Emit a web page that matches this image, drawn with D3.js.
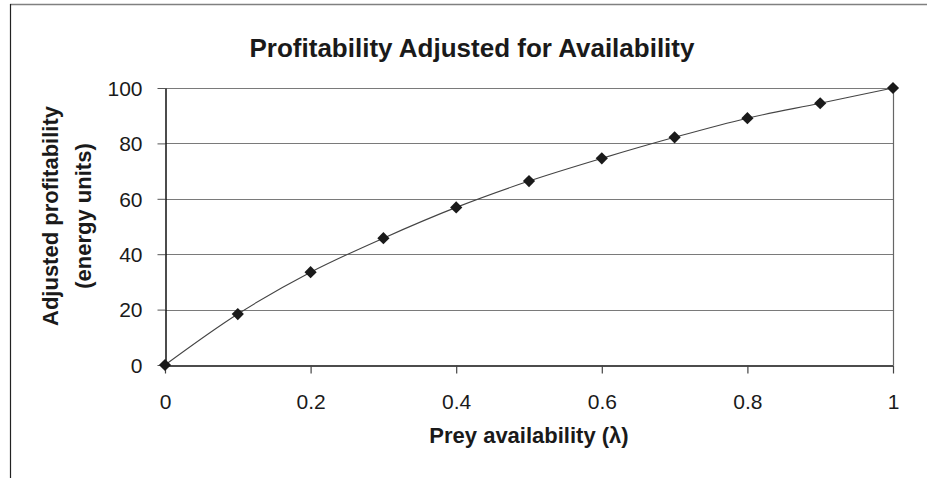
<!DOCTYPE html>
<html lang="en">
<head>
    <meta charset="UTF-8">
    <title>Profitability Adjusted for Availability</title>
    <script src="https://d3js.org/d3.v7.min.js"></script>
    <style>
        body { margin: 0; background: #fff; }
        text { font-family: "Liberation Sans", Arial, sans-serif; fill: #1a1a1a; }
    </style>
</head>
<body>
    <div id="chart"></div>

    <script>
        // Data
        var availability = [0, 0.1, 0.2, 0.3, 0.4, 0.5, 0.6, 0.7, 0.8, 0.9, 1];
        var profitability = [0, 18.4, 33.5, 45.8, 56.9, 66.4, 74.6, 82.2, 89.1, 94.5, 100];
        var xTicks = [0, 0.2, 0.4, 0.6, 0.8, 1];
        var yTicks = [0, 20, 40, 60, 80, 100];

        var width = 927, height = 478;
        var margin = { left: 165, right: 34, top: 88, bottom: 113 };

        var svg = d3.select("#chart").append("svg")
            .attr("width", width)
            .attr("height", height);

        // outer frame (top + left only)
        svg.append("line").attr("x1", 10).attr("x2", width).attr("y1", 4.5).attr("y2", 4.5)
            .attr("stroke", "#808080").attr("stroke-width", 1.5);
        svg.append("line").attr("x1", 10.5).attr("x2", 10.5).attr("y1", 4).attr("y2", height)
            .attr("stroke", "#222").attr("stroke-width", 1.2);

        var x = d3.scaleLinear().domain([0, 1]).range([margin.left, width - margin.right]);
        var y = d3.scaleLinear().domain([0, 100]).range([height - margin.bottom, margin.top]);

        // gridlines
        svg.append("g").selectAll("line")
            .data(yTicks.filter(function(d) { return d > 0; }))
            .join("line")
            .attr("x1", x(0)).attr("x2", x(1))
            .attr("y1", function(d) { return Math.round(y(d)) + 0.5; })
            .attr("y2", function(d) { return Math.round(y(d)) + 0.5; })
            .attr("stroke", "#7a7a7a").attr("stroke-width", 1);

        // right border of plot area
        svg.append("line")
            .attr("x1", x(1) + 0.5).attr("x2", x(1) + 0.5)
            .attr("y1", y(100)).attr("y2", y(0))
            .attr("stroke", "#666").attr("stroke-width", 1.2);

        // axes
        var xAxis = svg.append("g")
            .attr("transform", "translate(0," + (Math.round(y(0)) + 0.5) + ")")
            .call(d3.axisBottom(x).tickValues(xTicks).tickSize(8).tickSizeOuter(0)
                .tickFormat(function(d) { return d3.format("")(d); }));
        xAxis.select(".domain").attr("stroke", "#111").attr("stroke-width", 1.5);
        xAxis.selectAll(".tick line").attr("stroke", "#444").attr("stroke-width", 1.2);
        xAxis.selectAll(".tick text")
            .attr("dy", 0).attr("y", 43)
            .style("font-size", "21px").style("font-family", "'Liberation Sans', Arial, sans-serif")
            .attr("fill", "#1a1a1a");

        var yAxis = svg.append("g")
            .attr("transform", "translate(" + (Math.round(x(0)) + 0.5) + ",0)")
            .call(d3.axisLeft(y).tickValues(yTicks).tickSize(8).tickSizeOuter(0));
        yAxis.select(".domain").attr("stroke", "#111").attr("stroke-width", 1.5);
        yAxis.selectAll(".tick line").attr("stroke", "#555").attr("stroke-width", 1);
        yAxis.selectAll(".tick text")
            .attr("x", -23).attr("dy", "0.35em")
            .style("font-size", "21px").style("font-family", "'Liberation Sans', Arial, sans-serif")
            .attr("fill", "#1a1a1a");

        // series line
        var points = availability.map(function(a, i) { return [a, profitability[i]]; });
        var line = d3.line()
            .curve(d3.curveCatmullRom)
            .x(function(d) { return x(d[0]); })
            .y(function(d) { return y(d[1]); });

        svg.append("path")
            .datum(points)
            .attr("d", line)
            .attr("fill", "none")
            .attr("stroke", "#444")
            .attr("stroke-width", 1.1);

        // diamond markers
        var diamond = d3.symbol().type(d3.symbolDiamond2).size(95);
        svg.append("g").selectAll("path")
            .data(points)
            .join("path")
            .attr("d", diamond)
            .attr("transform", function(d) { return "translate(" + x(d[0]) + "," + y(d[1]) + ")"; })
            .attr("fill", "#1a1a1a");

        // titles
        svg.append("text")
            .attr("x", 472).attr("y", 57)
            .attr("text-anchor", "middle")
            .style("font-size", "26px").style("font-weight", "bold")
            .text("Profitability Adjusted for Availability");

        svg.append("text")
            .attr("x", (x(0) + x(1)) / 2).attr("y", 443)
            .attr("text-anchor", "middle")
            .style("font-size", "22px").style("font-weight", "bold")
            .text("Prey availability (λ)");

        var yTitle = svg.append("text")
            .attr("transform", "translate(58,216) rotate(-90)")
            .attr("text-anchor", "middle")
            .style("font-size", "22px").style("font-weight", "bold");
        yTitle.append("tspan").attr("x", 0).attr("y", 0).text("Adjusted profitability");
        yTitle.append("tspan").attr("x", 0).attr("y", 33).text("(energy units)");
    </script>
</body>
</html>
